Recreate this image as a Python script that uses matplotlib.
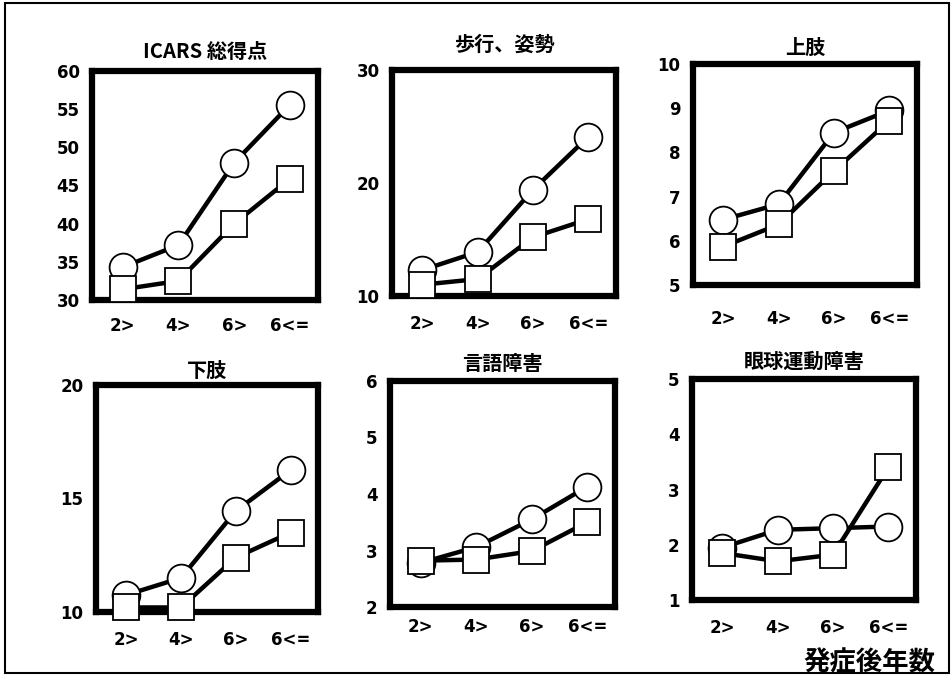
import matplotlib
matplotlib.use("Agg")
import matplotlib.pyplot as plt
from matplotlib.patches import Rectangle

plt.rcParams['font.family'] = ['Noto Sans CJK JP', 'DejaVu Sans']
plt.rcParams['font.weight'] = 'bold'

categories = ["2>", "4>", "6>", "6<="]

titles = ["ICARS 総得点", "歩行、姿勢", "上肢", "下肢", "言語障害", "眼球運動障害"]

circle_series = [
    [34.3, 37.2, 48.0, 55.6],
    [12.3, 13.9, 19.4, 24.1],
    [6.48, 6.83, 8.45, 8.95],
    [10.75, 11.5, 14.45, 16.25],
    [2.78, 3.06, 3.55, 4.13],
    [1.95, 2.27, 2.3, 2.33],
]
square_series = [
    [31.4, 32.5, 40.0, 45.9],
    [11.0, 11.5, 15.2, 16.8],
    [5.87, 6.37, 7.58, 8.72],
    [10.2, 10.2, 12.4, 13.5],
    [2.82, 2.84, 2.99, 3.5],
    [1.85, 1.7, 1.82, 3.4],
]
y_limits = [(30, 60), (10, 30), (5, 10), (10, 20), (2, 6), (1, 5)]
y_ticks = [
    [30, 35, 40, 45, 50, 55, 60],
    [10, 20, 30],
    [5, 6, 7, 8, 9, 10],
    [10, 15, 20],
    [2, 3, 4, 5, 6],
    [1, 2, 3, 4, 5],
]
x_label_text = "発症後年数"

W, H = 952, 678
fig = plt.figure(figsize=(W / 100, H / 100), dpi=100)

# pixel boxes: left, right, top, bottom
boxes = [
    (92, 318, 71, 300),
    (392, 616, 70, 296),
    (693, 917, 64, 285),
    (96, 318, 385, 612),
    (390, 615, 381, 607),
    (692, 916, 379, 600),
]
title_pads = [9, 14, 7, 6, 8, 8]
xpads = [12, 14, 18, 14, 8, 14]

tick_font = dict(family='DejaVu Sans', weight='bold', size=12)

for i in range(6):
    l, r, t, b = boxes[i]
    ax = fig.add_axes([l / W, 1 - b / H, (r - l) / W, (b - t) / H])
    x = list(range(len(categories)))
    ax.plot(x, circle_series[i], color='black', lw=3.2, marker='o', ms=20,
            mfc='white', mec='black', mew=1.3, zorder=3, clip_on=False)
    ax.plot(x, square_series[i], color='black', lw=3.2, marker='s', ms=19,
            mfc='white', mec='black', mew=1.3, zorder=4, clip_on=False)
    ax.set_xlim(-0.55, 3.5)
    ax.set_ylim(*y_limits[i])
    ax.set_yticks(y_ticks[i])
    ax.set_yticklabels([str(v) for v in y_ticks[i]], fontdict=tick_font)
    ax.set_xticks(x)
    ax.set_xticklabels(categories, fontdict=tick_font)
    ax.tick_params(length=0)
    ax.tick_params(axis='y', pad=9)
    ax.tick_params(axis='x', pad=xpads[i])
    for s in ax.spines.values():
        s.set_linewidth(4.5)
        s.set_zorder(2)
    ax.set_title(titles[i], fontsize=14.5, fontweight='bold', pad=title_pads[i])

fig.text(935 / W, 1 - 663 / H, x_label_text, fontsize=19, fontweight='bold',
         ha='right', va='center')

fig.patches.append(Rectangle((5 / W, 5 / H), 944 / W, 670 / H, transform=fig.transFigure,
                             fill=False, edgecolor='black', lw=1.5))

fig.savefig("out.png", dpi=100, facecolor='white')
